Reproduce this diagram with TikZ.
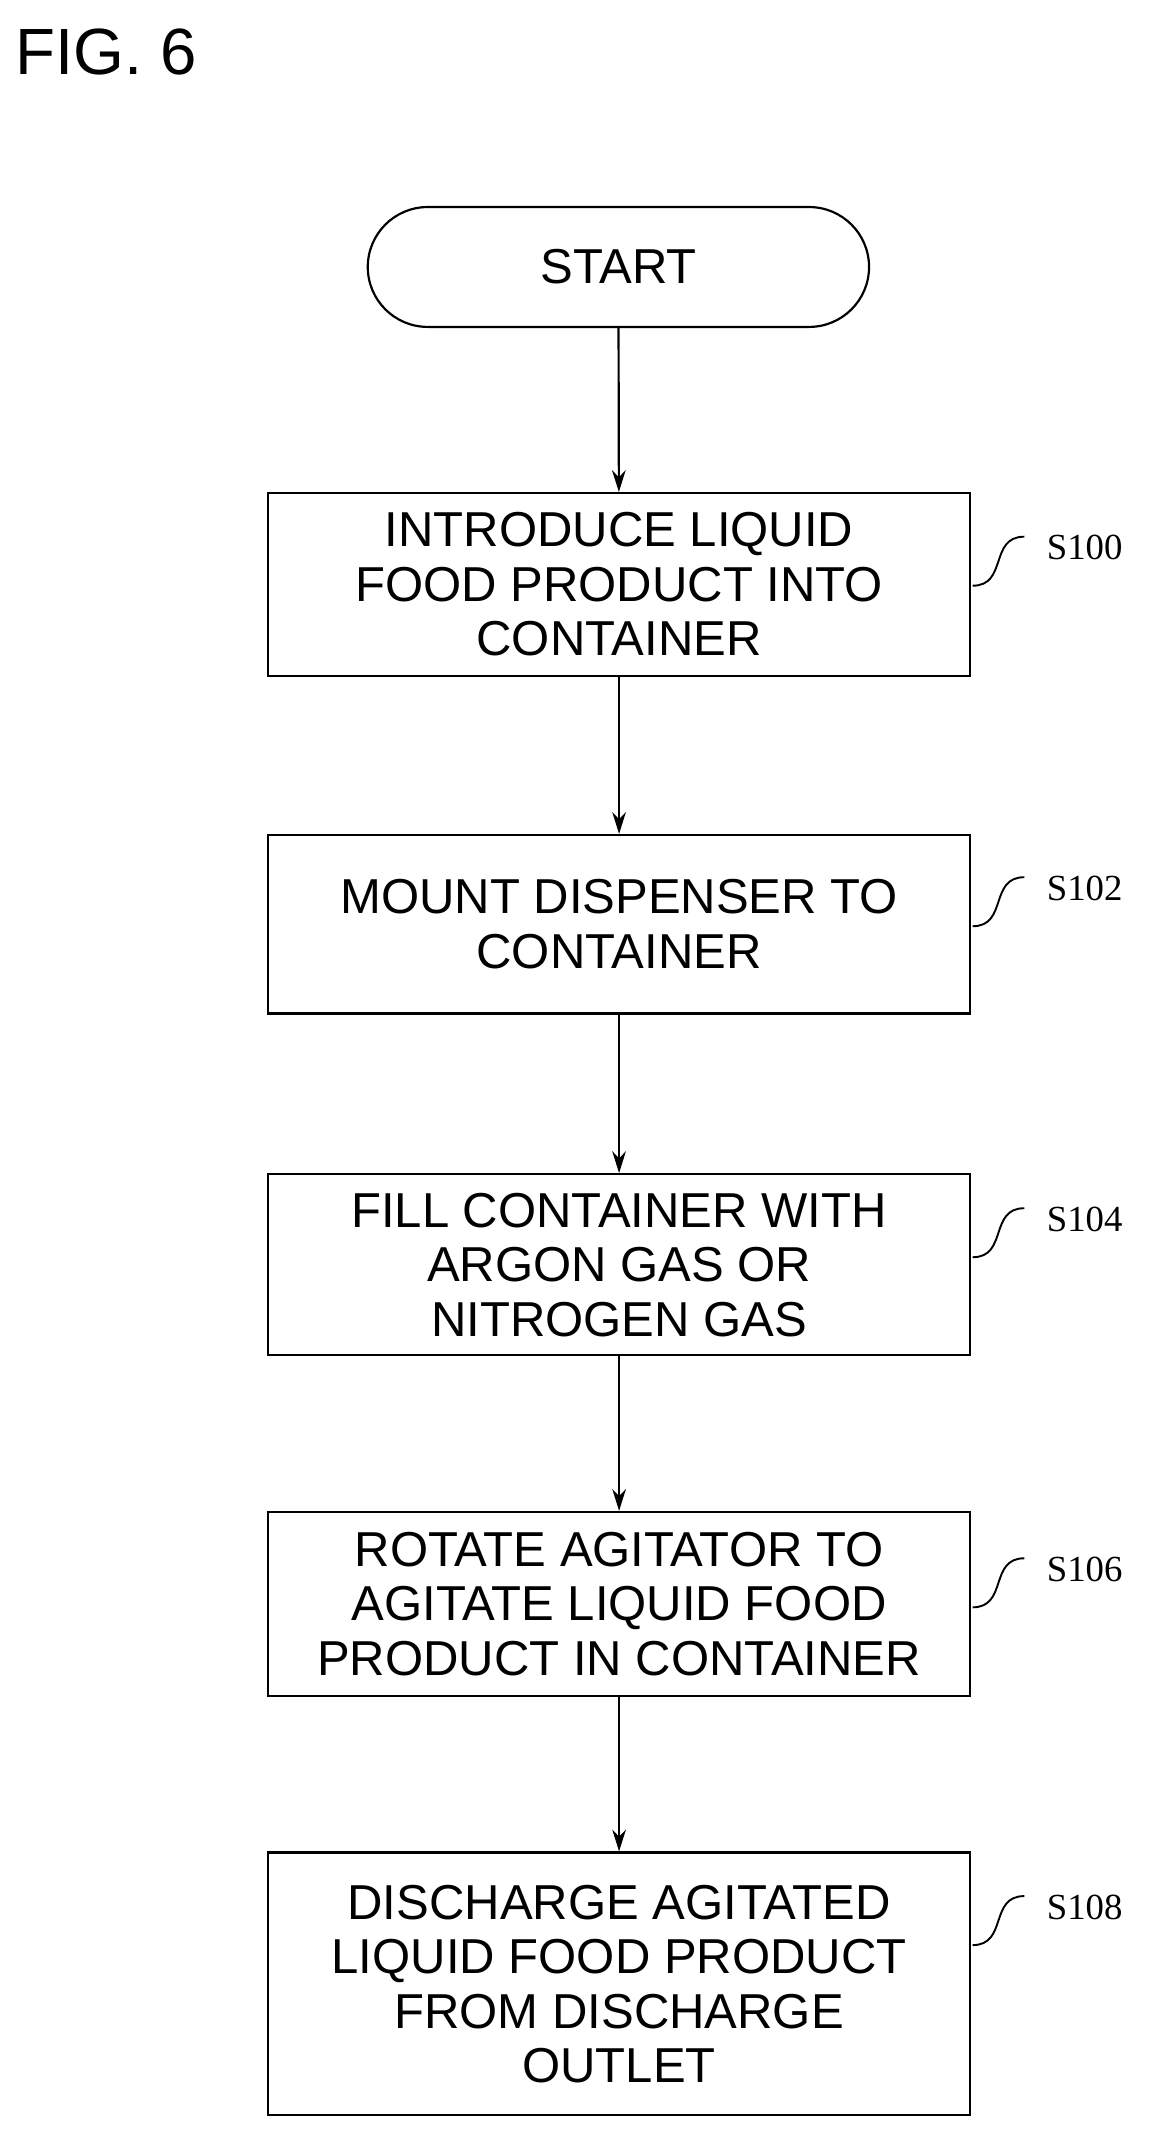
\documentclass[tikz,border=0pt]{standalone}
\usetikzlibrary{arrows.meta}
\usepackage{fontspec}
\setmainfont{Liberation Sans}
\newfontfamily\lblfont{Liberation Serif}
\begin{document}
\begin{tikzpicture}[x=1pt,y=-1pt,
  box/.style={draw,line width=1.6pt,minimum width=515pt,align=center,font=\fontsize{36}{40}\selectfont,inner sep=0pt},
  arr/.style={line width=1.6pt,-{Stealth[length=16pt,width=10pt]}},
  lbl/.style={font=\lblfont\fontsize{27}{30}\selectfont,anchor=west},
  sq/.style={line width=1.4pt}]
\useasboundingbox (0,0) rectangle (850,1563);
\node[anchor=west,font=\fontsize{48}{52}\selectfont] (fig) at (8,38) {FIG. 6};
\node[draw,line width=1.6pt,rounded corners=44pt,minimum width=368pt,minimum height=88pt,font=\fontsize{36}{40}\selectfont] (start) at (454,196) {START};
\node[box,minimum height=134pt] (b1) at (454.5,429) {INTRODUCE LIQUID\\FOOD PRODUCT INTO\\CONTAINER};
\node[box,minimum height=131pt] (b2) at (454.5,678.5) {MOUNT DISPENSER TO\\CONTAINER};
\node[box,minimum height=133pt] (b3) at (454.5,928.5) {FILL CONTAINER WITH\\ARGON GAS OR\\NITROGEN GAS};
\node[box,minimum height=135pt] (b4) at (454.5,1177.5) {ROTATE AGITATOR TO\\AGITATE LIQUID FOOD\\PRODUCT IN CONTAINER};
\node[box,minimum height=193pt] (b5) at (454.5,1456.5) {DISCHARGE AGITATED\\LIQUID FOOD PRODUCT\\FROM DISCHARGE\\OUTLET};
\draw[arr] (start) -- (b1);
\draw[arr] (b1) -- (b2);
\draw[arr] (b2) -- (b3);
\draw[arr] (b3) -- (b4);
\draw[arr] (b4) -- (b5);
\foreach \b/\t/\y in {b1/S100/402,b2/S102/652,b3/S104/895,b4/S106/1152,b5/S108/1400}{
  \node[lbl] (l\t) at (765,\y) {\t};
  \coordinate (e\t) at (714,\y+28);
  \draw[sq] (e\t) .. controls (740,\y+28) and (726,\y-8) .. (752,\y-8);
}
\end{tikzpicture}
\end{document}
